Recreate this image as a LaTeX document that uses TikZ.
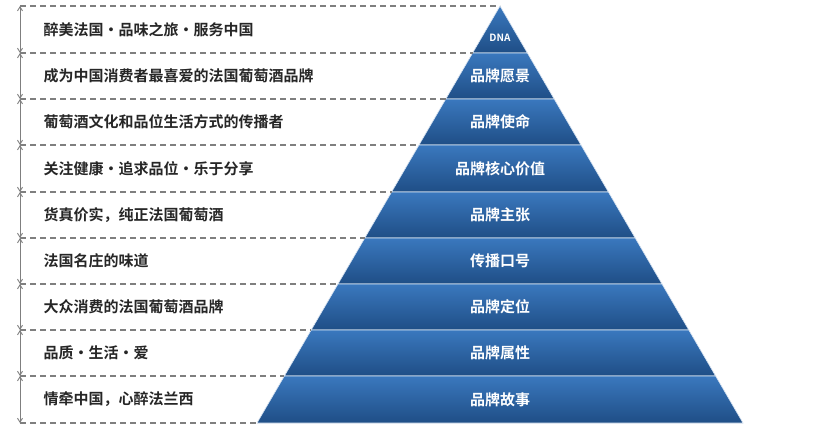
\documentclass[tikz,border=0pt]{standalone}
\usepackage{fontspec}
\newfontfamily\cjk{Noto Sans CJK SC Bold}
\usetikzlibrary{arrows.meta}
\definecolor{bandtop}{HTML}{3A78BE}
\definecolor{bandbot}{HTML}{1F4E86}
\definecolor{dashgray}{HTML}{7F7F7F}
\tikzset{
  band/.style={top color=bandtop,bottom color=bandbot,draw=white!80!bandtop,line width=0.6pt},
  lefttext/.style={anchor=west,font=\cjk\fontsize{15}{15}\selectfont,text=black!85},
  bandtext/.style={font=\cjk\fontsize{15}{15}\selectfont,text=white},
  guide/.style={dashgray,dashed,dash pattern=on 6pt off 4pt,line width=1.3pt},
  dim/.style={dashgray,line width=0.9pt,{Straight Barb[length=4pt,width=5pt]}-{Straight Barb[length=4pt,width=5pt]}}
}
\begin{document}
\begin{tikzpicture}[x=1pt,y=-1pt]
\useasboundingbox (0,0) rectangle (839,429);
\fill[white] (0,0) rectangle (839,429);
\def\ys{{6,53,99,145,192,238,284,330,376,423}}
\foreach \i/\lt/\bt in {0/醉美法国·品味之旅·服务中国/DNA,1/成为中国消费者最喜爱的法国葡萄酒品牌/品牌愿景,2/葡萄酒文化和品位生活方式的传播者/品牌使命,3/关注健康·追求品位·乐于分享/品牌核心价值,4/货真价实，纯正法国葡萄酒/品牌主张,5/法国名庄的味道/传播口号,6/大众消费的法国葡萄酒品牌/品牌定位,7/品质·生活·爱/品牌属性,8/情牵中国，心醉法兰西/品牌故事}{
  \pgfmathsetmacro\ya{\ys[\i]}
  \pgfmathsetmacro\yb{\ys[\i+1]}
  \pgfmathsetmacro\wa{0.58273*(\ya-6)}
  \pgfmathsetmacro\wb{0.58273*(\yb-6)}
  \coordinate (tl\i) at (500-\wa,\ya);
  \coordinate (tr\i) at (500+\wa,\ya);
  \coordinate (bl\i) at (500-\wb,\yb);
  \coordinate (br\i) at (500+\wb,\yb);
  \coordinate (ls\i) at (20,\ya);
  \coordinate (le\i) at (20,\yb);
  \shade[band] (tl\i) -- (tr\i) -- (br\i) -- (bl\i) -- cycle;
  \draw[guide] (ls\i) -- (tl\i);
  \draw[dim] (ls\i) -- (le\i);
  \node[lefttext] (l\i) at (40,{(\ya+\yb)/2}) {\lt};
  \ifnum\i=0
    \node[bandtext,font=\cjk\fontsize{10}{10}\selectfont] (b\i) at (500,{(\ya+\yb)/2+8}) {\bt};
  \else
    \node[bandtext] (b\i) at (500,{(\ya+\yb)/2}) {\bt};
  \fi
}
\coordinate (le) at (20,423);
\draw[guide] (le) -- (bl8);
\end{tikzpicture}
\end{document}
